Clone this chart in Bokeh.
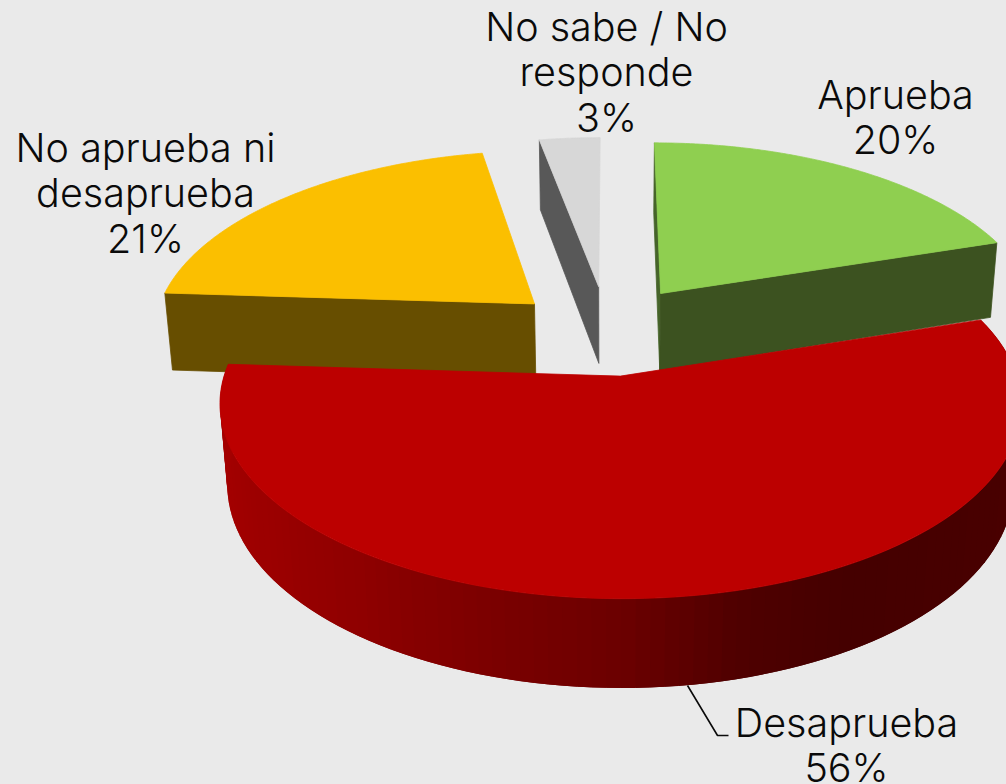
import numpy as np
from bokeh.embed import file_html
from bokeh.resources import INLINE
from bokeh.plotting import figure
from bokeh.core.properties import value

# --- data -------------------------------------------------------------
categories = ["Aprueba", "Desaprueba", "No aprueba ni desaprueba", "No sabe / No responde"]
percents = [20, 56, 21, 3]

# --- styling / layout -------------------------------------------------
top_colors = ["#8FCF50", "#BC0000", "#FBBF00", "#D7D7D7"]
cut_colors = ["#3C5220", None, "#674E00", "#585858"]
explode_x = [0.135, 0.025, -0.203, -0.032]
explode_y = [0.20, -0.25, 0.14, 0.24]
radius_y = [1.0, 0.97, 1.0, 1.0]
label_lines = [["Aprueba"], ["Desaprueba"], ["No aprueba ni", "desaprueba"], ["No sabe / No", "responde"]]
label_x = [895, 846, 145, 606]
label_y = [94, 722, 147, 26]
line_gap = 45.5
FONT = "Inter Light"
FONT_PX = "39.5px"
BG = "#EAEAEA"

CX, CY, RX, RY, K, M, D = 610.0, 328.4, 382.0, 182.0, 0.145, 0.018, 80.0


def project(X, Y, Z=0.0):
    s = 1.0 / (1.0 + K * np.asarray(Y) + M * np.asarray(Z))
    return CX + RX * np.asarray(X) * s, CY - RY * np.asarray(Y) * s + D * np.asarray(Z) * s


def arc(i, a0, a1, n=160):
    th = np.radians(np.linspace(a0, a1, n))
    return np.sin(th) + explode_x[i], radius_y[i] * np.cos(th) + explode_y[i]


def poly(p, xs, ys, color, line=True):
    p.patch(list(xs), list(ys), fill_color=color, line_color=color if line else None, line_width=0.8)


def cut_face(p, i, X, Y, color):
    x0, y0 = project(explode_x[i], explode_y[i], 0)
    x1, y1 = project(explode_x[i], explode_y[i], 1)
    x2, y2 = project(X, Y, 1)
    x3, y3 = project(X, Y, 0)
    poly(p, [x0, x1, x2, x3], [y0, y1, y2, y3], color)


def top_face(p, i, a0, a1):
    X, Y = arc(i, a0, a1)
    xs, ys = project(X, Y, 0)
    ax, ay = project(explode_x[i], explode_y[i], 0)
    poly(p, np.r_[ax, xs], np.r_[ay, ys], top_colors[i])


shade_pos = [-1.0, -0.6, -0.3, 0.0, 0.25, 0.5, 1.0]
shade_r = [165, 144, 124, 108, 80, 69, 74]

p = figure(width=1006, height=784, x_range=(0, 1006), y_range=(784, 0),
           output_backend="svg", toolbar_location=None, min_border=0,
           background_fill_color=BG, border_fill_color=BG, outline_line_color=None)
p.axis.visible = False
p.grid.visible = False

ang = np.r_[0.0, np.cumsum(percents)] * 3.6
A = [(ang[i], ang[i + 1]) for i in range(4)]

i = 3
Xa, Ya = arc(i, A[i][0], A[i][0], 1)
cut_face(p, i, Xa[0], Ya[0], cut_colors[i])
top_face(p, i, *A[i])

i = 0
Xa, Ya = arc(i, A[i][0], A[i][0], 1)
cut_face(p, i, Xa[0], Ya[0], "#46642A")
Xb, Yb = arc(i, A[i][1], A[i][1], 1)
cut_face(p, i, Xb[0], Yb[0], cut_colors[i])
top_face(p, i, *A[i])

i = 2
Xa, Ya = arc(i, A[i][0], A[i][0], 1)
cut_face(p, i, Xa[0], Ya[0], cut_colors[i])
top_face(p, i, *A[i])

i = 1
segs = 110
X, Y = arc(i, A[i][0], A[i][1], segs + 1)
xt, yt = project(X, Y, 0)
xb, yb = project(X, Y, 1)
for j in range(segs):
    k = min(j + 2, segs)
    r = int(np.interp(np.sin(np.radians(A[i][0] + (A[i][1] - A[i][0]) * (j + 0.5) / segs)), shade_pos, shade_r))
    c = "#%02X0000" % r
    poly(p, [xt[j], xt[k], xb[k], xb[j]], [yt[j], yt[k], yb[k], yb[j]], c, line=False)
top_face(p, i, *A[i])

for i in range(4):
    lines = label_lines[i] + [f"{percents[i]}%"]
    for n, t in enumerate(lines):
        p.text([label_x[i]], [label_y[i] + n * line_gap], text=[t],
               text_font=value(FONT), text_font_size=FONT_PX, text_color="#0A0A0A",
               text_align="center", text_baseline="middle")

p.line([687, 717, 728], [685, 735, 735], line_color="#0A0A0A", line_width=1.6)

TPL = "{% block preamble %}<style>html,body{margin:0;background:#EAEAEA;overflow:hidden}</style>{% endblock %}"
open("out.html", "w").write(file_html(p, INLINE, template=TPL))
